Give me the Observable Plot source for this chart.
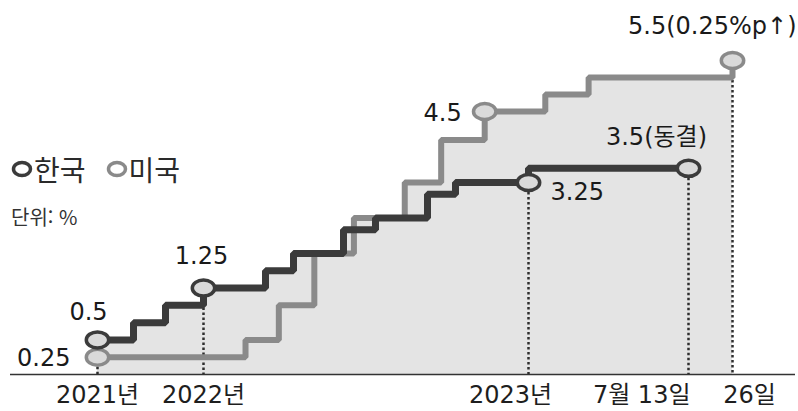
<!DOCTYPE html>
<html lang="ko">
<head>
<meta charset="utf-8">
<script src="https://cdn.jsdelivr.net/npm/d3@7"></script>
<script src="https://cdn.jsdelivr.net/npm/@observablehq/plot@0.6"></script>
<style>
  html, body { margin: 0; padding: 0; background: #fff; }
  #chart { position: relative; width: 798px; height: 411px; }
  .legend { position: absolute; left: 11px; top: 155px; font-family: "Noto Sans CJK KR", sans-serif;
            font-size: 28px; color: #2a2a2a; display: flex; align-items: center; line-height: 1; }
  .legend span { display: inline-flex; align-items: center; margin-right: 20px; }
  .legend svg { margin-right: 1px; }
  .unit { position: absolute; left: 11px; top: 202px; font-family: "Noto Sans CJK KR", sans-serif;
          font-size: 20px; color: #333; }
</style>
</head>
<body>
<div id="chart">
  <div class="legend">
    <span><svg width="22" height="18"><ellipse cx="11" cy="9" rx="8.5" ry="6.5" fill="none" stroke="#3b3b3b" stroke-width="3.5"/></svg>한국</span>
    <span><svg width="22" height="18"><ellipse cx="11" cy="9" rx="8.5" ry="6.5" fill="none" stroke="#8a8a8a" stroke-width="3.5"/></svg>미국</span>
  </div>
  <div class="unit">단위: %</div>
</div>
<script>
// 한국 기준금리 (결정일, %)
const krDates = ["2021-01-01", "2021-08-26", "2021-11-25", "2022-01-14", "2022-04-14", "2022-05-26",
                 "2022-07-13", "2022-08-25", "2022-10-12", "2022-11-24", "2023-01-13", "2023-07-13"];
const krRates = [0.5, 0.75, 1.0, 1.25, 1.5, 1.75, 2.25, 2.5, 3.0, 3.25, 3.5, 3.5];

// 미국 기준금리 상단 (결정일, %)
const usDates = ["2021-01-01", "2022-03-16", "2022-05-04", "2022-06-15", "2022-07-27", "2022-09-21",
                 "2022-11-02", "2022-12-14", "2023-02-01", "2023-03-22", "2023-07-26"];
const usRates = [0.25, 0.5, 1.0, 1.75, 2.5, 3.25, 4.0, 4.5, 4.75, 5.0, 5.5];

// 값 표시 지점
const krMarkDates = ["2021-01-01", "2022-01-14", "2023-01-13", "2023-07-13"];
const krMarkRates = [0.5, 1.25, 3.25, 3.5];
const krMarkLabels = ["0.5", "1.25", "3.25", "3.5(동결)"];

const usMarkDates = ["2021-01-01", "2022-12-14", "2023-07-26"];
const usMarkRates = [0.25, 4.5, 5.5];
const usMarkLabels = ["0.25", "4.5", "5.5(0.25%p↑)"];

// 가로축 눈금
const tickDates = ["2021-01-01", "2022-01-14", "2023-01-13", "2023-07-13", "2023-07-26"];
const tickLabels = ["2021년", "2022년", "2023년", "7월 13일", "26일"];

const parse = d3.utcParse("%Y-%m-%d");
const zip = (dates, values) => dates.map((d, i) => ({date: parse(d), value: values[i]}));
const kr = zip(krDates, krRates);
const us = zip(usDates, usRates);
const krMarks = krMarkDates.map((d, i) => ({date: parse(d), value: krMarkRates[i], label: krMarkLabels[i]}));
const usMarks = usMarkDates.map((d, i) => ({date: parse(d), value: usMarkRates[i], label: usMarkLabels[i]}));
const ticks = tickDates.map((d, i) => ({date: parse(d), label: tickLabels[i]}));

// step-after value of a series at time t
const valueAt = (series, t) => {
  let v;
  for (const p of series) if (p.date <= t) v = p.value;
  return v;
};
// shaded region: upper envelope of both series
const envDates = Array.from(new Set([...kr, ...us].map(p => +p.date))).sort((a, b) => a - b);
const envelope = envDates.map(t => ({
  date: new Date(t),
  value: d3.max([valueAt(kr, t), valueAt(us, t)].filter(v => v !== undefined))
}));

// dotted guides from the lowest marker at each tick date down to the baseline
const allMarks = [...krMarks, ...usMarks];
const guides = ticks.map(t => ({
  date: t.date,
  value: d3.min(allMarks.filter(m => +m.date === +t.date), m => m.value)
}));

// elliptical ring marker
const ellipse = {
  draw(ctx, size) {
    const r = Math.sqrt(size / Math.PI), rx = r * 1.4, ry = r, k = 0.5523;
    ctx.moveTo(rx, 0);
    ctx.bezierCurveTo(rx, ry * k, rx * k, ry, 0, ry);
    ctx.bezierCurveTo(-rx * k, ry, -rx, ry * k, -rx, 0);
    ctx.bezierCurveTo(-rx, -ry * k, -rx * k, -ry, 0, -ry);
    ctx.bezierCurveTo(rx * k, -ry, rx, -ry * k, rx, 0);
    ctx.closePath();
  }
};

// the vertical axis is schematic: rates are compressed toward the top.
// yWarp keeps 0 and 5.5 fixed so the scale domain stays in percent.
const yWarp = d3.scaleLinear()
  .domain([0, 1.75, 3.25, 4.5, 5.0, 5.5])
  .range([0, 2.119, 3.363, 4.607, 5.202, 5.5]);

const KR = "#3b3b3b", US = "#8a8a8a";
const FONT = "DejaVu Sans, 'Noto Sans CJK KR', sans-serif";

const callout = (data, label, opts) => Plot.text(data.filter(d => d.label === label), {
  x: "date", y: "value", text: "label", fontFamily: FONT, fontSize: 24, fill: "#1a1a1a",
  lineAnchor: "middle", ...opts
});
const tickText = (label, opts) => Plot.text(ticks.filter(d => d.label === label), {
  x: "date", y: () => 0, text: "label", fontFamily: FONT, fontSize: 24, fill: "#1e1e1e",
  lineAnchor: "middle", dy: 21, ...opts
});

// the timeline is drawn schematically: each Korean decision date is a knot
const xKnots = [...krDates, "2023-07-26"].map(parse);

const chart = Plot.plot({
  width: 798,
  height: 411,
  marginLeft: 10,
  marginRight: 3,
  marginTop: 0,
  marginBottom: 0,
  style: {background: "transparent", fontFamily: FONT},
  x: {type: "utc", domain: xKnots,
      range: [97, 133, 165, 203, 265, 293, 343, 375, 427, 455, 528, 688, 732], axis: null},
  y: {type: "linear", transform: yWarp, domain: [0, 5.5], range: [374, 60], axis: null},
  marks: [
    Plot.areaY(envelope, {x: "date", y: "value", curve: "step-after", fill: "#e4e4e4"}),
    Plot.ruleX(guides, {x: "date", y1: "value", y2: () => 0, stroke: "#2e2e2e",
                        strokeWidth: 2.5, strokeDasharray: "2.5,2.5"}),
    Plot.line(us, {x: "date", y: "value", curve: "step-after", stroke: US, strokeWidth: 6,
                   strokeLinejoin: "miter", strokeLinecap: "butt"}),
    Plot.line(kr, {x: "date", y: "value", curve: "step-after", stroke: KR, strokeWidth: 7,
                   strokeLinejoin: "miter", strokeLinecap: "butt"}),
    Plot.ruleY([0], {stroke: "#333", strokeWidth: 1.5}),
    Plot.dot(usMarks, {x: "date", y: "value", symbol: ellipse, r: 8, fill: "#dadada",
                       stroke: US, strokeWidth: 3.5}),
    Plot.dot(krMarks, {x: "date", y: "value", symbol: ellipse, r: 8, fill: "#dadada",
                       stroke: KR, strokeWidth: 3.5}),
    callout(krMarks, "0.5", {textAnchor: "middle", dx: -9, dy: -28}),
    callout(usMarks, "0.25", {textAnchor: "end", dx: -27, dy: 1}),
    callout(krMarks, "1.25", {textAnchor: "middle", dx: -2, dy: -32}),
    callout(krMarks, "3.25", {textAnchor: "start", dx: 22, dy: 10}),
    callout(krMarks, "3.5(동결)", {textAnchor: "middle", dx: -32, dy: -31}),
    callout(usMarks, "4.5", {textAnchor: "end", dx: -23, dy: 2}),
    callout(usMarks, "5.5(0.25%p↑)", {textAnchor: "end", dx: 64, dy: -34}),
    tickText("2021년", {textAnchor: "middle"}),
    tickText("2022년", {textAnchor: "middle"}),
    tickText("2023년", {textAnchor: "middle", dx: -18}),
    tickText("7월 13일", {textAnchor: "end", dx: 2}),
    tickText("26일", {textAnchor: "middle", dx: 17})
  ]
});

document.getElementById("chart").prepend(chart);
</script>
</body>
</html>
